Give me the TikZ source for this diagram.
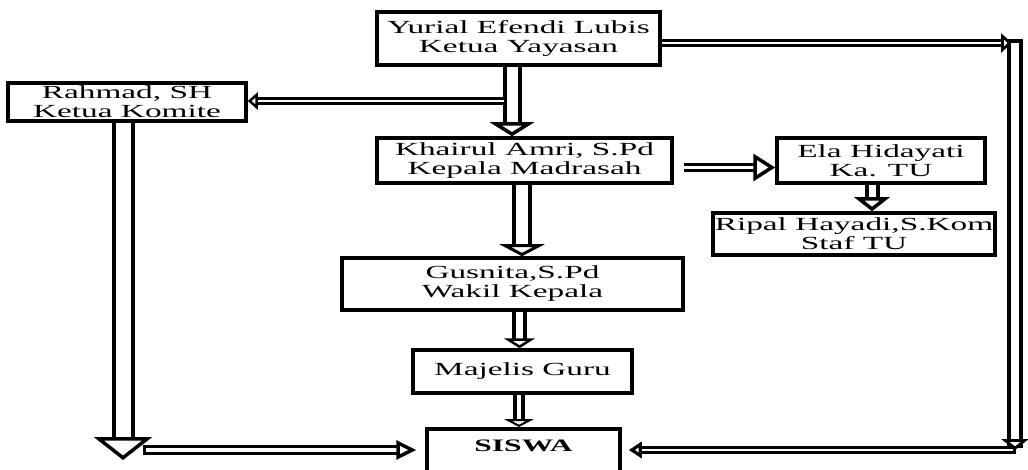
\documentclass[tikz,border=0pt]{standalone}
\usepackage{fontspec}
\setmainfont[FakeStretch=1.8]{Liberation Serif}
\usetikzlibrary{arrows.meta,calc}
\newcommand{\orgfont}{\fontsize{18.5}{19}\selectfont}

\begin{document}
\begin{tikzpicture}[x=1pt,y=-1pt,
      orgbox/.style={draw,line width=3.5pt,inner sep=0pt,align=center,font=\orgfont},
      pipe/.style={draw,double=white,line width=4pt,double distance=#1},
      thinpipe/.style={draw,double=white,line width=3pt,double distance=#1},
      blk/.style 2 args={-{Triangle[open,fill=white,line width=3.5pt 0 0,length=#1,width=#2]}}]
      \useasboundingbox(0,0)rectangle(1028,470);
      % boxes
      \node[orgbox,minimum width=283pt,minimum height=53pt](yay)at(518.5,38.5)
         {Yurial Efendi Lubis\\Ketua Yayasan};
      \node[orgbox,minimum width=238pt,minimum height=38pt](kom)at(127,102)
         {Rahmad, SH\\Ketua Komite};
      \node[orgbox,minimum width=295pt,minimum height=45pt](kep)at(524.5,160.5)
         {Khairul Amri, S.Pd\\Kepala Madrasah};
      \node[orgbox,minimum width=208pt,minimum height=45pt](ela)at(881,160.5)
         {Ela Hidayati\\Ka. TU};
      \node[orgbox,minimum width=282pt,minimum height=42pt](rip)at(854,234)
         {Ripal Hayadi,S.Kom\\Staf TU};
      \node[orgbox,minimum width=341pt,minimum height=52pt](gus)at(512.5,284)
         {Gusnita,S.Pd\\Wakil Kepala};
      \node[orgbox,minimum width=219pt,minimum height=43pt](maj)at(522.5,371.5)
         {Majelis Guru};
      \node[orgbox,minimum width=193pt,anchor=north,inner ysep=7pt,text height=16pt,
         text depth=40pt,font=\fontsize{17.5}{17.5}\selectfont\bfseries](sis)at(523.5,427){SISWA};
      % free corners
      \coordinate(ks)at(503,101);
      \coordinate(tr)at(1012,43);
      \coordinate(rt)at(1015,47);
      \coordinate(br)at(1015,450);
      \coordinate(bs)at(1012,450);
      \coordinate(bl)at(123,460);
      \coordinate(bm)at(148,450);
      % arrows
      \draw[pipe=11pt,blk={14pt}{44pt}]([xshift=-6.5pt]yay.south)--([xshift=-12.5pt]kep.north);
      \draw[thinpipe=2pt,line cap=rect,blk={10pt}{17pt}](ks)--(kom.east|-ks);
      \draw[thinpipe=2.5pt,blk={11pt}{19pt}](yay.east|-tr)--(tr);
      \draw[pipe=8pt,line cap=rect,blk={11pt}{27pt}](rt)--(br);
      \draw[thinpipe=1.5pt,line cap=rect,shorten >=7pt,blk={13pt}{16pt}](bs)--(sis.east|-bs);
      \draw[pipe=15pt,blk={23pt}{58pt}]([xshift=-4pt]kom.south)--(bl);
      \draw[thinpipe=3.5pt,line cap=rect,shorten >=9pt,blk={20pt}{19pt}](bm)--(sis.west|-bm);
      \draw[thinpipe=3pt,shorten <=10pt,blk={22pt}{27pt}]([yshift=-7pt]kep.east)--([yshift=-7pt]ela.west);
      \draw[pipe=7pt,blk={14pt}{35pt}]([xshift=-9pt]ela.south)--([xshift=18pt]rip.north);
      \draw[pipe=12pt,blk={12pt}{45pt}]([xshift=-2.5pt]kep.south)--([xshift=9.5pt]gus.north);
      \draw[pipe=7pt,blk={10pt}{31pt}]([xshift=7pt]gus.south)--([xshift=-3pt]maj.north);
      \draw[pipe=4pt,blk={8pt}{30pt}]([xshift=-3.5pt]maj.south)--([xshift=-4.5pt]sis.north);
\end{tikzpicture}
\end{document}
